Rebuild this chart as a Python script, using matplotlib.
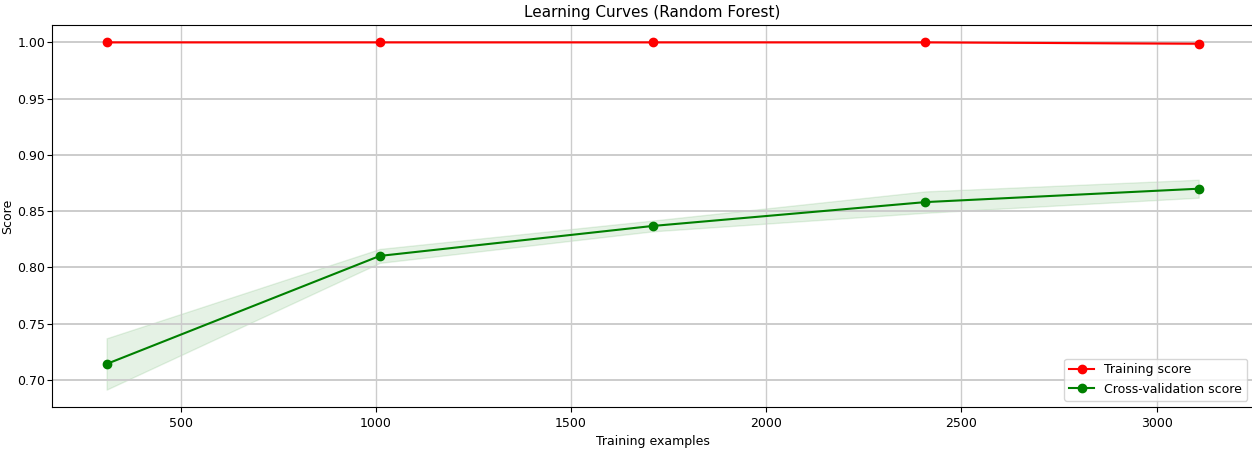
import numpy as np
import matplotlib
matplotlib.use("Agg")
import matplotlib.pyplot as plt

train_sizes = [310, 1010, 1709, 2408, 3108]
train_mean = [1.0, 1.0, 1.0, 1.0, 0.9988]
train_std = [0.0, 0.0, 0.0, 0.0, 0.0004]
cv_mean = [0.7143, 0.8103, 0.8369, 0.8581, 0.8700]
cv_std = [0.0228, 0.0062, 0.0048, 0.0095, 0.0080]

train_mean = np.array(train_mean)
train_std = np.array(train_std)
cv_mean = np.array(cv_mean)
cv_std = np.array(cv_std)

fig = plt.figure(figsize=(12.52, 4.5), dpi=100)
ax = fig.add_axes([52 / 1252, 1 - 407 / 450, 0.9595, (407 - 25) / 450])

ax.set_title("Learning Curves (Random Forest)", fontsize=11)
ax.set_xlabel("Training examples", fontsize=9)
ax.set_ylabel("Score", fontsize=9, labelpad=2)
ax.grid(axis="x", color="#cccccc", linewidth=1.0)
ax.grid(axis="y", color="#cccccc", linewidth=1.4)

ax.fill_between(train_sizes, train_mean - train_std, train_mean + train_std,
                alpha=0.1, color="r")
ax.fill_between(train_sizes, cv_mean - cv_std, cv_mean + cv_std,
                alpha=0.1, color="g")
ax.plot(train_sizes, train_mean, "o-", color="r", label="Training score")
ax.plot(train_sizes, cv_mean, "o-", color="g", label="Cross-validation score")

ax.tick_params(labelsize=9)
ax.tick_params(axis="y", pad=1.5)
ax.legend(loc="best", fontsize=9)

fig.savefig("out.png", dpi=100)
